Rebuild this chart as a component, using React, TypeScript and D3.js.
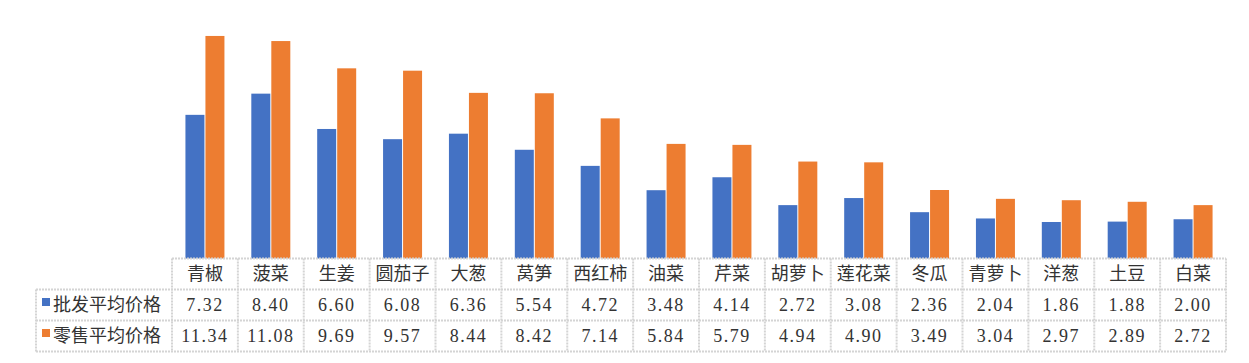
import * as d3 from 'd3';

const categories = ['青椒', '菠菜', '生姜', '圆茄子', '大葱', '莴笋', '西红柿', '油菜', '芹菜', '胡萝卜', '莲花菜', '冬瓜', '青萝卜', '洋葱', '土豆', '白菜'];
const seriesNames = ['批发平均价格', '零售平均价格'];
const wholesale = [7.32, 8.40, 6.60, 6.08, 6.36, 5.54, 4.72, 3.48, 4.14, 2.72, 3.08, 2.36, 2.04, 1.86, 1.88, 2.00];
const retail = [11.34, 11.08, 9.69, 9.57, 8.44, 8.42, 7.14, 5.84, 5.79, 4.94, 4.90, 3.49, 3.04, 2.97, 2.89, 2.72];
const colors = ['#4472C4', '#ED7D31'];

const W = 1249;
const H = 363;
const tableLeft = 36;
const plotLeft = 172;
const plotRight = 1226;
const baseY = 258.5;
const rowH = 31;
const cjk = '"Noto Sans CJK SC", sans-serif';
const numFont = '"Liberation Serif", serif';
const grid = '#d4d4d4';
const textColor = '#333';

export default function App() {
  const x = d3.scaleBand<string>().domain(categories).range([plotLeft, plotRight]);
  const groupW = 39;
  const xSub = d3.scaleBand<string>().domain(seriesNames).range([0, groupW]).paddingInner(0.05);
  const y = d3.scaleLinear().domain([0, 12]).range([baseY, 23]);
  const values = [wholesale, retail];
  const bw = x.bandwidth();

  const rows = [baseY, baseY + rowH, baseY + rowH * 2, baseY + rowH * 3];

  return (
    <svg width={W} height={H} style={{ position: 'absolute', left: 0, top: 0, background: '#fff' }}>
      {/* bars */}
      {categories.map((c, i) => (
        <g key={c} transform={`translate(${(x(c) ?? 0) + (bw - groupW) / 2},0)`}>
          {seriesNames.map((s, k) => (
            <rect key={s} x={xSub(s)} width={xSub.bandwidth()} y={y(values[k][i])}
              height={baseY - y(values[k][i])} fill={colors[k]} />
          ))}
        </g>
      ))}

      {/* table grid */}
      <g stroke={grid} strokeWidth={2} fill="none" strokeDasharray="2,1">
        <line x1={plotLeft} x2={plotRight} y1={rows[0]} y2={rows[0]} />
        {[1, 2, 3].map(r => (
          <line key={r} x1={tableLeft} x2={plotRight} y1={rows[r]} y2={rows[r]} />
        ))}
        <line x1={tableLeft} x2={tableLeft} y1={rows[1]} y2={rows[3]} />
        {categories.map(c => (
          <line key={c} x1={x(c)} x2={x(c)} y1={rows[0]} y2={rows[3]} />
        ))}
        <line x1={plotRight} x2={plotRight} y1={rows[0]} y2={rows[3]} />
      </g>

      {/* category labels */}
      {categories.map(c => (
        <text key={c} x={(x(c) ?? 0) + bw / 2} y={rows[0] + rowH / 2} dy="0.36em"
          textAnchor="middle" fontFamily={cjk} fontSize={18} fill={textColor}>{c}</text>
      ))}

      {/* series rows */}
      {seriesNames.map((s, k) => (
        <g key={s}>
          <rect x={42} y={rows[k + 1] + rowH / 2 - 7} width={8} height={8} fill={colors[k]} />
          <text x={53} y={rows[k + 1] + rowH / 2} dy="0.36em" fontFamily={cjk} fontSize={18} fill={textColor}>{s}</text>
          {categories.map((c, i) => (
            <text key={c} x={(x(c) ?? 0) + bw / 2} y={rows[k + 1] + rowH / 2} dy="0.36em"
              textAnchor="middle" fontFamily={numFont} fontSize={18} letterSpacing={1.5} fill={textColor}>
              {values[k][i].toFixed(2)}
            </text>
          ))}
        </g>
      ))}
    </svg>
  );
}
